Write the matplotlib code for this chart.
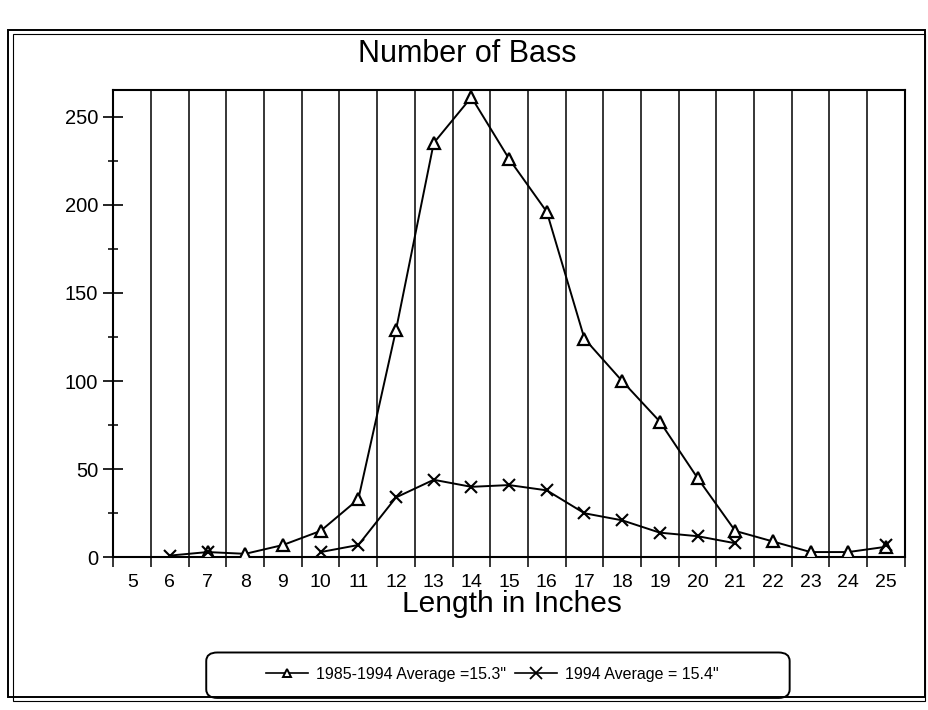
import numpy as np
import matplotlib.pyplot as plt
from matplotlib.patches import FancyBboxPatch, Rectangle
from matplotlib.lines import Line2D
from matplotlib.ticker import MultipleLocator

plt.rcParams['font.family'] = ['Liberation Sans', 'DejaVu Sans']

# length classes (inches)
lengths = list(range(5, 26))
# 1985-1994 average counts
avg_85_94 = [np.nan, np.nan, 3, 2, 7, 15, 33, 129, 235, 261, 226, 196, 124, 100, 77, 45, 15, 9, 3, 3, 6]
# 1994 counts
counts_94 = [np.nan, 1, 3, np.nan, np.nan, 3, 7, 34, 44, 40, 41, 38, 25, 21, 14, 12, 8, np.nan, np.nan, np.nan, 7]

label_a = '1985-1994 Average =15.3"'
label_b = '1994 Average = 15.4"'

fig = plt.figure(figsize=(9.29, 7.10), dpi=100)
ax = fig.add_axes([0.122, 0.215, 0.852, 0.658])

# vertical grid between classes
for b in np.arange(5.5, 25.5, 1):
    ax.axvline(b, color='black', lw=1.1, zorder=1)

ax.plot(lengths, avg_85_94, color='black', lw=1.4, marker='^', ms=8,
        mfc='white', mec='black', mew=1.6, zorder=3)
ax.plot(lengths, counts_94, color='black', lw=1.4, marker='x', ms=9,
        mew=1.5, zorder=3)

ax.set_xlim(4.5, 25.5)
ax.set_ylim(0, 265)

ax.set_xticks(lengths)
ax.set_xticklabels([str(v) for v in lengths], fontsize=14)
ax.tick_params(axis='x', which='major', length=0, pad=12)
ax.set_xticks(np.arange(4.5, 26, 1), minor=True)
ax.tick_params(axis='x', which='minor', direction='out', length=7, width=1.1)

ax.yaxis.set_major_locator(MultipleLocator(50))
ax.yaxis.set_minor_locator(MultipleLocator(25))
ax.tick_params(axis='y', which='major', direction='inout', length=14, width=1.2, labelsize=14.5, pad=4)
ax.tick_params(axis='y', which='minor', direction='inout', length=7, width=1.1)

for s in ax.spines.values():
    s.set_linewidth(1.5)

ax.set_xlabel('Length in Inches', fontsize=21.5, va='center')
ax.xaxis.set_label_coords(0.503, -0.1)
fig.text(0.503, 0.924, 'Number of Bass', ha='center', va='center', fontsize=22)

# legend in a rounded box
handles = [
    Line2D([], [], color='black', lw=1.2, marker='^', ms=6, mfc='white', mec='black', mew=1.4),
    Line2D([], [], color='black', lw=1.2, marker='x', ms=8, mew=1.3),
]
leg = fig.legend(handles, [label_a, label_b], loc='center', bbox_to_anchor=(0.53, 0.05),
                 ncol=2, frameon=False, fontsize=11.5, handlelength=2.6,
                 columnspacing=0.6, handletextpad=0.5)
fig.patches.append(FancyBboxPatch((0.222, 0.017), 0.628, 0.064,
                                  boxstyle='round,pad=0,rounding_size=0.012',
                                  transform=fig.transFigure, fill=False,
                                  ec='black', lw=1.4))

# outer frame
fig.patches.append(Rectangle((0.009, 0.018), 0.987, 0.94, transform=fig.transFigure,
                             fill=False, ec='black', lw=1.4))
fig.patches.append(Rectangle((0.014, 0.012), 0.982, 0.94, transform=fig.transFigure,
                             fill=False, ec='black', lw=0.8))

fig.savefig('out.png', dpi=100)
